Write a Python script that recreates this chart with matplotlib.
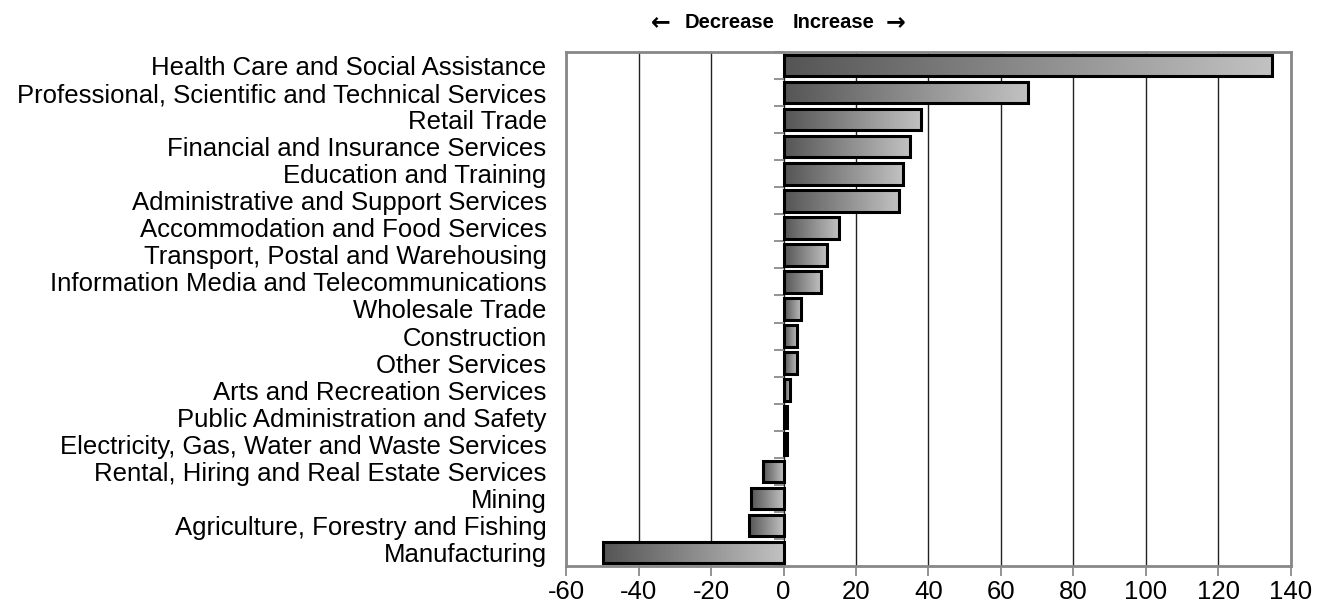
import numpy as np
import matplotlib
matplotlib.use('Agg')
import matplotlib.pyplot as plt
from matplotlib.colors import LinearSegmentedColormap
from matplotlib.patches import Rectangle
import matplotlib.transforms as mtransforms

# industries, top to bottom as in the chart
industries = [
    'Health Care and Social Assistance',
    'Professional, Scientific and Technical Services',
    'Retail Trade',
    'Financial and Insurance Services',
    'Education and Training',
    'Administrative and Support Services',
    'Accommodation and Food Services',
    'Transport, Postal and Warehousing',
    'Information Media and Telecommunications',
    'Wholesale Trade',
    'Construction',
    'Other Services',
    'Arts and Recreation Services',
    'Public Administration and Safety',
    'Electricity, Gas, Water and Waste Services',
    'Rental, Hiring and Real Estate Services',
    'Mining',
    'Agriculture, Forestry and Fishing',
    'Manufacturing',
]
change = [134.7, 67.4, 38.0, 35.0, 33.0, 31.9, 15.3, 11.9, 10.4, 4.7, 3.7, 3.7,
          1.7, 1.1, 0.9, -5.7, -9.0, -9.6, -49.7]
xticks = [-60, -40, -20, 0, 20, 40, 60, 80, 100, 120, 140]

plt.rcParams['font.family'] = ['Liberation Sans', 'DejaVu Sans']

fig = plt.figure(figsize=(13.25, 6.10), dpi=100)
ax = fig.add_axes([0.4272, 0.0721, 0.9743 - 0.4272, 0.9148 - 0.0721])

cmap = LinearSegmentedColormap.from_list('bargrad', ['#555555', '#c2c2c2'])
grad = np.linspace(0, 1, 256).reshape(1, -1)

n = len(industries)
ypos = np.arange(n)[::-1]
h = 0.8
for y, v in zip(ypos, change):
    x0, x1 = min(0, v), max(0, v)
    rect = Rectangle((x0, y - h / 2), x1 - x0, h, facecolor='none',
                     edgecolor='black', linewidth=2.2, zorder=4)
    ax.add_patch(rect)
    im = ax.imshow(grad, cmap=cmap, aspect='auto', extent=[x0, x1, y - h / 2, y + h / 2],
                   interpolation='bicubic', zorder=3)
    im.set_clip_path(rect)

ax.set_xlim(-60, 140)
ax.set_ylim(-0.5, n - 0.5)
ax.set_xticks(xticks)
ax.set_xticklabels([str(t) for t in xticks], fontsize=18.5)
ax.set_yticks(ypos)
ax.set_yticklabels(industries, fontsize=18.5)
ax.tick_params(axis='y', length=0, pad=14)
ax.tick_params(axis='x', length=7, width=1.2, color='#808080', pad=3)

ax.grid(axis='x', color='#222222', linewidth=1.0, zorder=1)
ax.set_axisbelow(True)
for s in ax.spines.values():
    s.set_color('#888888')
    s.set_linewidth(2)

# category boundary ticks on the zero line
sec = ax.secondary_yaxis(0.3)
sec.set_yticks(np.arange(-0.5, n, 1.0))
sec.set_yticklabels([])
sec.tick_params(length=7, width=1.2, color='#808080')
sec.spines['left'].set_visible(False)

trans = mtransforms.blended_transform_factory(ax.transData, ax.transAxes)
ty = 1.058
ax.text(-2.5, ty, 'Decrease', transform=trans, ha='right', va='center',
        fontsize=14.5, fontweight='bold')
ax.text(2.5, ty, 'Increase', transform=trans, ha='left', va='center',
        fontsize=14.5, fontweight='bold')
ax.annotate('\u2190', xy=(-2.5, ty), xycoords=trans, xytext=(-75, 0),
            textcoords='offset points', ha='right', va='center',
            fontsize=17, fontweight='bold', family='DejaVu Sans')
ax.annotate('\u2192', xy=(2.5, ty), xycoords=trans, xytext=(67, 0),
            textcoords='offset points', ha='left', va='center',
            fontsize=17, fontweight='bold', family='DejaVu Sans')

fig.savefig('out.png', dpi=100)
